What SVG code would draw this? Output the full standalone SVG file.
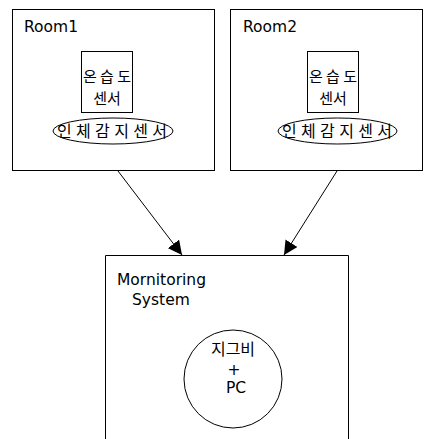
<svg xmlns="http://www.w3.org/2000/svg" width="424" height="439" viewBox="0 0 424 439">
<style>
.box{fill:#fff;stroke:#000;stroke-width:1}
.t{font-family:"DejaVu Sans","Noto Sans CJK KR",sans-serif;font-size:15.5px;fill:#000}
.k{font-family:"Noto Sans CJK KR","DejaVu Sans",sans-serif;font-size:16px;fill:#000}
.s{font-size:15px}
.c{text-anchor:middle}
.ln{stroke:#000;stroke-width:1;fill:none}
</style>
<defs>
<marker id="ah" viewBox="0 0 10 10" refX="10" refY="5" markerWidth="14" markerHeight="14" markerUnits="userSpaceOnUse" orient="auto">
<path d="M0,0 L10,5 L0,10 Z" fill="#000"/>
</marker>
</defs>
<rect width="424" height="439" fill="#fff"/>
<g id="room1">
<rect class="box" x="12.5" y="9.5" width="202" height="161"/>
<text class="t" x="24" y="32">Room1</text>
<g id="room1-th">
<rect class="box" x="81.5" y="51.5" width="51" height="61"/>
<text class="k s c" x="107" y="82" textLength="48" lengthAdjust="spacing">온습도</text>
<text class="k s c" x="107" y="104">센서</text>
</g>
<g id="room1-pir">
<ellipse class="box" cx="113" cy="131" rx="60" ry="13"/>
<text class="k c" x="112" y="137" textLength="110" lengthAdjust="spacing">인체감지센서</text>
</g>
</g>
<g id="room2">
<rect class="box" x="230.5" y="9.5" width="192" height="161"/>
<text class="t" x="243" y="32">Room2</text>
<g id="room2-th">
<rect class="box" x="307.5" y="51.5" width="51" height="61"/>
<text class="k s c" x="333" y="82" textLength="48" lengthAdjust="spacing">온습도</text>
<text class="k s c" x="333" y="104">센서</text>
</g>
<g id="room2-pir">
<ellipse class="box" cx="337.5" cy="131" rx="59.5" ry="13"/>
<text class="k c" x="337" y="137" textLength="110" lengthAdjust="spacing">인체감지센서</text>
</g>
</g>
<g id="monitoring">
<path class="ln" d="M105.5,445 V255.5 H348.5 V445"/>
<text class="t" x="117" y="285">Mornitoring</text>
<text class="t" x="132" y="305">System</text>
<g id="zigbee-pc">
<circle class="box" cx="233" cy="379" r="49"/>
<text class="k c" x="233" y="355">지그비</text>
<text class="t c" x="234" y="375">+</text>
<text class="t c" x="236" y="393">PC</text>
</g>
</g>
<g id="connectors">
<line class="ln" x1="118" y1="171" x2="182" y2="255" marker-end="url(#ah)"/>
<line class="ln" x1="337" y1="171" x2="284" y2="255" marker-end="url(#ah)"/>
</g>
</svg>
